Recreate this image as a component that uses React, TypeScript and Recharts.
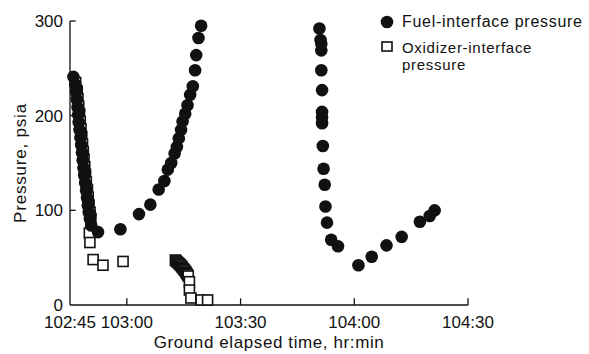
import { ScatterChart, Scatter, XAxis, YAxis, ReferenceLine } from 'recharts';

// time is minutes after 102:45 GET, pressure in psia
const fuelLeft = [
  { t: 0.9, p: 241 }, { t: 1.4, p: 233 }, { t: 1.6, p: 225 }, { t: 1.8, p: 217 },
  { t: 2.0, p: 209 }, { t: 2.15, p: 201 }, { t: 2.3, p: 193 }, { t: 2.5, p: 185 },
  { t: 2.75, p: 177 }, { t: 2.95, p: 169 }, { t: 3.15, p: 161 }, { t: 3.35, p: 153 },
  { t: 3.55, p: 145 }, { t: 3.75, p: 137 }, { t: 4.0, p: 129 }, { t: 4.25, p: 121 },
  { t: 4.5, p: 113 }, { t: 4.7, p: 105 }, { t: 4.95, p: 98 }, { t: 5.25, p: 91 },
  { t: 5.6, p: 84 }, { t: 1.8, p: 228 }, { t: 2.4, p: 205 }, { t: 2.9, p: 182 },
  { t: 3.4, p: 160 }, { t: 3.9, p: 140 }, { t: 4.4, p: 122 }, { t: 4.9, p: 108 },
  { t: 5.4, p: 95 }, { t: 7.4, p: 77 },
];

const fuelRise = [
  { t: 13.3, p: 80 }, { t: 18.2, p: 96 }, { t: 21.2, p: 106 }, { t: 23.4, p: 122 },
  { t: 24.9, p: 131 }, { t: 25.8, p: 143 }, { t: 26.7, p: 150 }, { t: 27.6, p: 160 },
  { t: 28.2, p: 167 }, { t: 28.7, p: 176 }, { t: 29.3, p: 185 }, { t: 29.7, p: 194 },
  { t: 30.4, p: 202 }, { t: 31.0, p: 211 }, { t: 31.7, p: 222 }, { t: 32.4, p: 231 },
  { t: 33.0, p: 248 }, { t: 33.3, p: 264 }, { t: 33.9, p: 282 }, { t: 34.6, p: 295 },
];

const fuelRight = [
  { t: 65.8, p: 292 }, { t: 66.1, p: 280 }, { t: 66.3, p: 276 }, { t: 66.3, p: 269 },
  { t: 66.3, p: 248 }, { t: 66.5, p: 227 }, { t: 66.5, p: 204 }, { t: 66.5, p: 198 },
  { t: 66.5, p: 192 }, { t: 66.7, p: 168 }, { t: 66.9, p: 144 }, { t: 67.2, p: 127 },
  { t: 67.4, p: 104 }, { t: 67.8, p: 87 }, { t: 68.9, p: 69 }, { t: 70.7, p: 62 },
  { t: 76.1, p: 42 }, { t: 79.6, p: 51 }, { t: 83.5, p: 63 }, { t: 87.5, p: 72 },
  { t: 92.3, p: 88 }, { t: 94.9, p: 94 }, { t: 96.2, p: 100 },
];

const oxLeft = [
  { t: 1.5, p: 235 }, { t: 1.9, p: 226 }, { t: 2.1, p: 218 }, { t: 2.3, p: 210 },
  { t: 2.5, p: 202 }, { t: 2.7, p: 194 }, { t: 2.9, p: 186 }, { t: 3.1, p: 178 },
  { t: 3.3, p: 170 }, { t: 3.5, p: 162 }, { t: 3.7, p: 154 }, { t: 3.9, p: 146 },
  { t: 4.1, p: 138 }, { t: 4.3, p: 130 }, { t: 4.6, p: 122 }, { t: 4.8, p: 114 },
  { t: 5.0, p: 106 }, { t: 5.3, p: 98 }, { t: 5.5, p: 90 }, { t: 5.1, p: 76 },
  { t: 5.25, p: 66 }, { t: 6.1, p: 48 }, { t: 8.7, p: 42 }, { t: 14.0, p: 46 },
];

const oxMid = [
  { t: 27.8, p: 47.5 }, { t: 28.0, p: 46.5 }, { t: 28.3, p: 45.4 }, { t: 28.6, p: 44.3 },
  { t: 28.9, p: 43.3 }, { t: 29.1, p: 42.2 }, { t: 29.4, p: 41.2 }, { t: 29.6, p: 39.8 },
  { t: 29.9, p: 38.5 }, { t: 30.1, p: 37.2 }, { t: 30.4, p: 35.9 }, { t: 30.6, p: 34.6 },
  { t: 30.8, p: 33.3 }, { t: 31.0, p: 32.0 }, { t: 31.2, p: 30.6 }, { t: 31.5, p: 24.6 },
  { t: 31.5, p: 15.8 }, { t: 31.9, p: 7.4 }, { t: 34.6, p: 5.3 }, { t: 36.3, p: 5.3 },
];

const xTicks = [0, 15, 45, 75, 105];
const yTicks = [0, 100, 200, 300];
const START_MIN = 102 * 60 + 45;

const fuel = [...fuelLeft, ...fuelRise, ...fuelRight];
const oxidizer = [...oxLeft, ...oxMid];

const FONT = '"Liberation Sans", Arial, sans-serif';

const fmtTime = (v: number) => {
  const m = START_MIN + v;
  const mm = m % 60;
  return `${Math.floor(m / 60)}:${mm < 10 ? '0' + mm : mm}`;
};

const Dot = (props: any) => <circle cx={props.cx} cy={props.cy} r={6.3} fill="#111" />;
const Box = (props: any) => (
  <rect x={props.cx - 5} y={props.cy - 5} width={10} height={10} fill="#fff" stroke="#111" strokeWidth={1.6} />
);

export default function App() {
  return (
    <div style={{ position: 'absolute', left: 0, top: 0, width: 589, height: 354, background: '#fff' }}>
      <ScatterChart width={589} height={354} margin={{ top: 21, right: 121, left: 20, bottom: 0 }}>
        <XAxis
          type="number"
          dataKey="t"
          domain={[0, 105]}
          ticks={xTicks}
          tickFormatter={fmtTime}
          height={49}
          tickSize={0}
          tickMargin={11}
          stroke="#111"
          strokeWidth={1.3}
          tick={{ fill: '#111', fontSize: 17, fontFamily: FONT }}
          label={{ value: 'Ground elapsed time, hr:min', position: 'insideBottom', offset: 6, fill: '#111', fontSize: 17, fontFamily: FONT, style: { letterSpacing: 0.6 } }}
        />
        <YAxis
          type="number"
          dataKey="p"
          domain={[0, 300]}
          ticks={yTicks}
          width={50}
          tickSize={0}
          tickMargin={7}
          stroke="#111"
          strokeWidth={1.3}
          tick={{ fill: '#111', fontSize: 17, fontFamily: FONT }}
          label={{ value: 'Pressure, psia', angle: -90, position: 'insideLeft', offset: 0, fill: '#111', fontSize: 17, fontFamily: FONT, style: { textAnchor: 'middle', letterSpacing: 0.8 } }}
        />
        {xTicks.slice(1).map((v) => (
          <ReferenceLine key={'x' + v} segment={[{ x: v, y: 0 }, { x: v, y: 7 }]} stroke="#111" strokeWidth={1.3} />
        ))}
        {yTicks.slice(1).map((v) => (
          <ReferenceLine key={'y' + v} segment={[{ x: 0, y: v }, { x: 1.5, y: v }]} stroke="#111" strokeWidth={1.3} />
        ))}
        <Scatter name="Oxidizer-interface pressure" data={oxidizer} shape={Box} isAnimationActive={false} />
        <Scatter name="Fuel-interface pressure" data={fuel} shape={Dot} isAnimationActive={false} />
      </ScatterChart>
      <div style={{ position: 'absolute', left: 380, top: 14, fontFamily: FONT, fontSize: 16, color: '#111', letterSpacing: 0.7, lineHeight: '16px' }}>
        <div style={{ display: 'flex', alignItems: 'center', height: 16 }}>
          <svg width={16} height={16} style={{ marginRight: 6 }}>
            <circle cx={7} cy={8} r={6.3} fill="#111" />
          </svg>
          <span>Fuel-interface pressure</span>
        </div>
        <div style={{ display: 'flex', alignItems: 'flex-start', marginTop: 9 }}>
          <svg width={16} height={16} style={{ marginRight: 6 }}>
            <rect x={2} y={3} width={10} height={9} fill="#fff" stroke="#111" strokeWidth={1.6} />
          </svg>
          <div style={{ fontSize: 15, lineHeight: '17px' }}>
            <div>Oxidizer-interface</div>
            <div>pressure</div>
          </div>
        </div>
      </div>
    </div>
  );
}
